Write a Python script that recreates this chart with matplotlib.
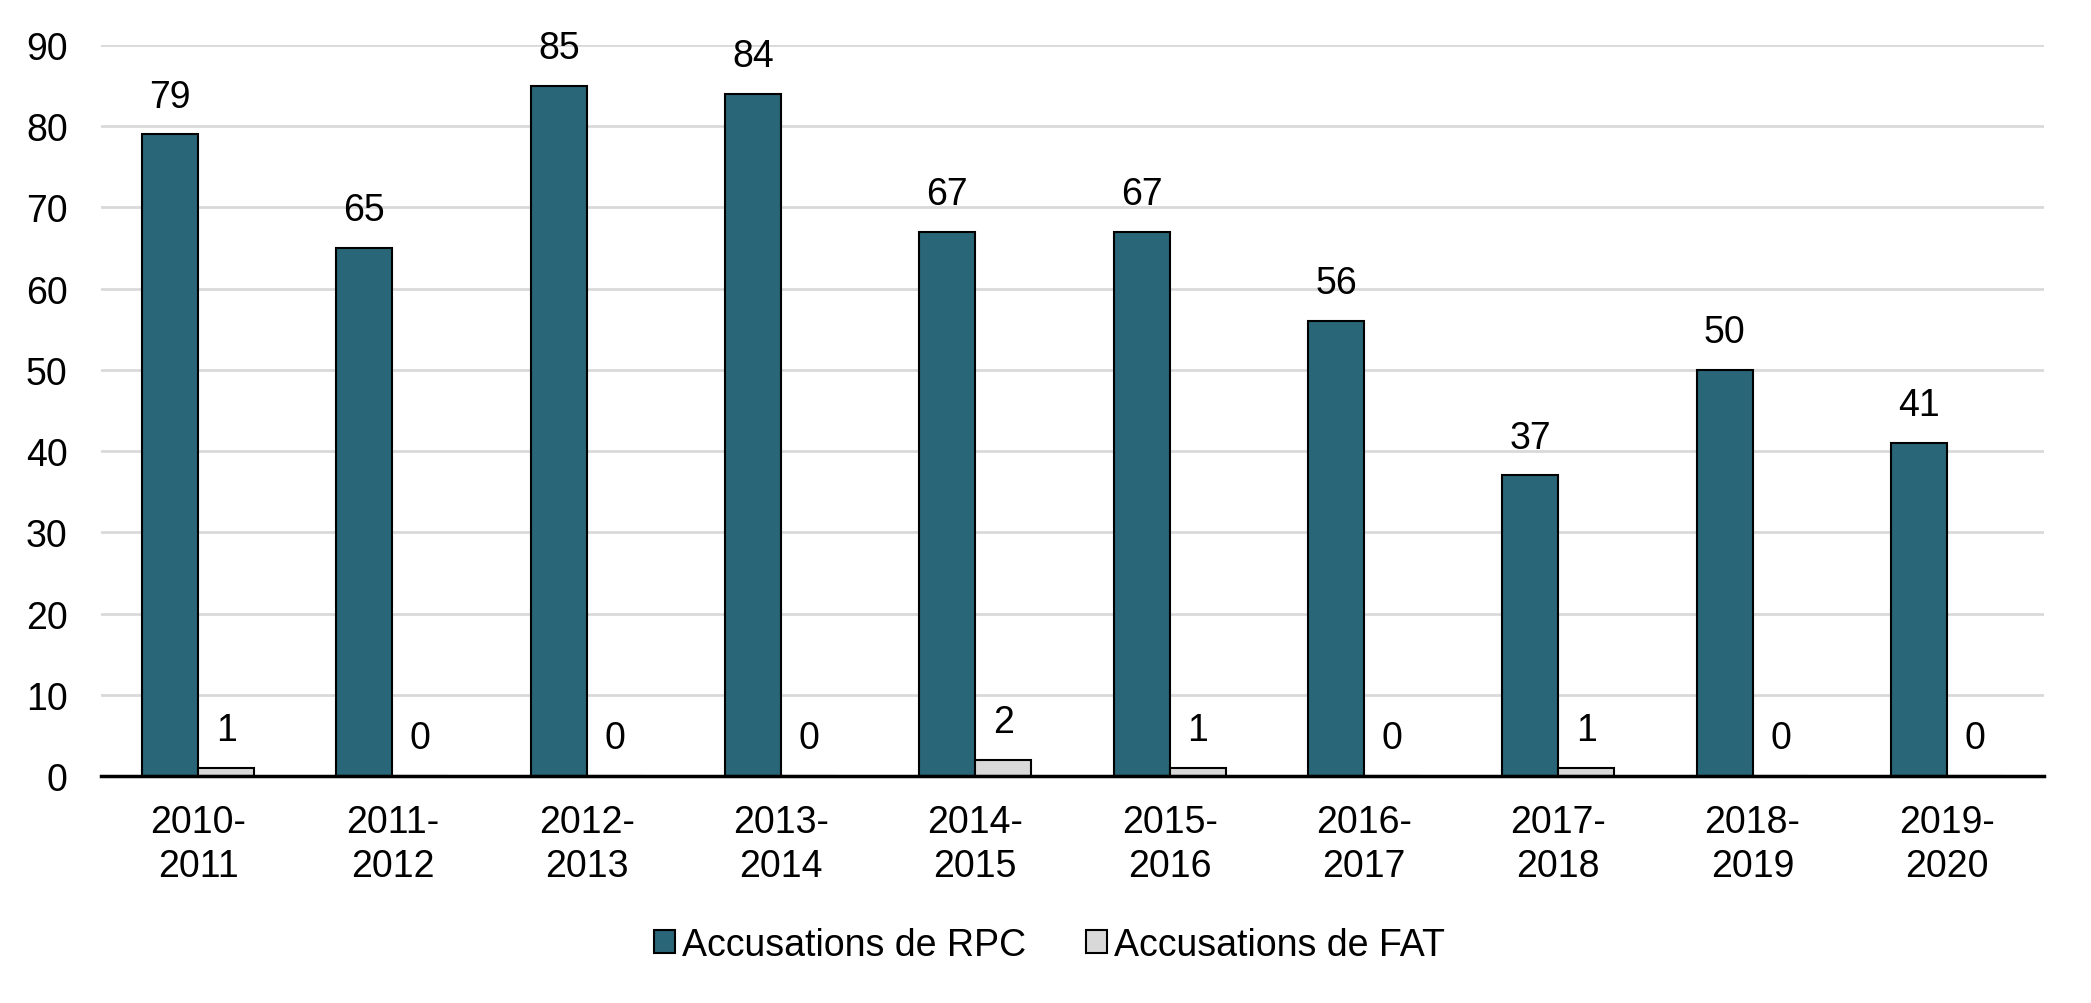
import numpy as np
import matplotlib
matplotlib.use("Agg")
import matplotlib.pyplot as plt

# data
periods = ["2010-\n2011", "2011-\n2012", "2012-\n2013", "2013-\n2014", "2014-\n2015",
           "2015-\n2016", "2016-\n2017", "2017-\n2018", "2018-\n2019", "2019-\n2020"]
rpc = [79, 65, 85, 84, 67, 67, 56, 37, 50, 41]
fat = [1, 0, 0, 0, 2, 1, 0, 1, 0, 0]
series_labels = ["Accusations de RPC", "Accusations de FAT"]

TEAL = "#296677"
LIGHT = "#d9d9d9"

plt.rcParams["font.family"] = ["Liberation Sans", "DejaVu Sans"]
FS = 27

fig = plt.figure(figsize=(20.91, 10.04), dpi=100)
ax = fig.add_axes([0.0483, 0.2261, 0.9292, 0.7281])

x = np.arange(len(periods))
w = 0.288
b1 = ax.bar(x - w / 2, rpc, w, color=TEAL, edgecolor="black", linewidth=1.5,
            label=series_labels[0], zorder=3)
b2 = ax.bar(x + w / 2, fat, w, color=LIGHT, edgecolor="black", linewidth=1.5,
            label=series_labels[1], zorder=3)

# value labels above each bar
for bars, vals in ((b1, rpc), (b2, fat)):
    for r, v in zip(bars, vals):
        ax.annotate(str(v), (r.get_x() + r.get_width() / 2, v),
                    xytext=(0, 20), textcoords="offset points",
                    ha="center", va="baseline", fontsize=FS)

ax.set_xlim(-0.5, len(periods) - 0.5)
ax.set_ylim(0, 90)
ax.set_yticks(range(0, 91, 10))
ax.set_xticks(x)
ax.set_xticklabels(periods, fontsize=FS, linespacing=1.3)
ax.tick_params(axis="y", labelsize=FS, length=0, pad=24)
ax.tick_params(axis="x", length=0, pad=20)
ax.grid(axis="y", color="#d9d9d9", linewidth=2, zorder=0)
for s in ("top", "right", "left"):
    ax.spines[s].set_visible(False)
ax.spines["bottom"].set_linewidth(2.5)
ax.spines["bottom"].set_zorder(4)

fig.legend(handles=[b1, b2], labels=series_labels, loc="center",
           bbox_to_anchor=(0.502, 0.058), ncol=2, frameon=False, fontsize=FS,
           handlelength=0.55, handleheight=0.55, handletextpad=0.2,
           columnspacing=1.6)

fig.savefig("out.png", dpi=100)
